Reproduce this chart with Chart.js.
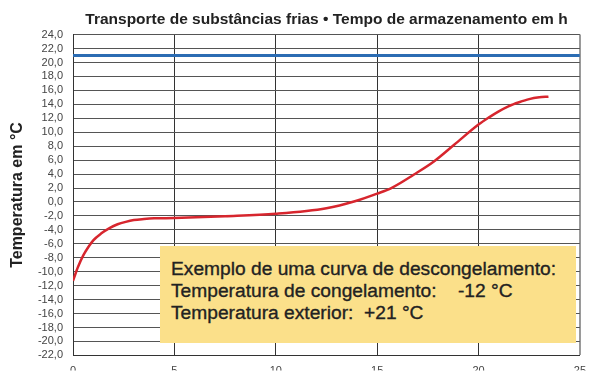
<!DOCTYPE html>
<html>
<head>
<meta charset="utf-8">
<script src="https://cdn.jsdelivr.net/npm/chart.js@4.4.0/dist/chart.umd.min.js"></script>
<style>
  html, body { margin: 0; padding: 0; background: #fff; }
  #wrap { position: relative; width: 595px; height: 372px; overflow: hidden; }
  #nota {
    position: absolute; left: 160px; top: 246px; width: 416px; height: 97px;
    box-sizing: border-box; padding: 12px 0 0 11px;
    background: #fbe08a; color: #222;
    font-family: 'Liberation Sans', Arial, sans-serif; font-size: 19.2px; line-height: 22px;
    white-space: pre; -webkit-text-stroke: 0.35px #222;
  }
</style>
</head>
<body>
<div id="wrap">
  <canvas id="grafico" width="595" height="372"></canvas>
  <div id="nota">Exemplo de uma curva de descongelamento:
Temperatura de congelamento:    -12 °C
Temperatura exterior:  +21 °C</div>
</div>
<script>
// curva de descongelamento (h, °C)
const horas = [0, 0.25, 0.5, 0.75, 1.0, 1.4, 1.8, 2.2, 2.6, 3.0, 3.5, 4, 5, 7.5, 10, 12.5, 13.9, 15, 15.7, 16.8, 17.8, 18.8, 20, 20.5, 21, 21.5, 22, 22.5, 23, 23.45];
const temperaturas = [-11.3, -9.3, -7.7, -6.5, -5.5, -4.5, -3.75, -3.2, -2.85, -2.6, -2.45, -2.35, -2.3, -2.05, -1.7, -0.9, 0.1, 1.2, 2.0, 3.9, 5.8, 8.2, 11.1, 12.1, 13.0, 13.75, 14.3, 14.75, 15.0, 15.1];

// temperatura exterior constante
const horasExterior = [0, 25];
const tempExterior = [21, 21];

const eixoX = { min: 0, max: 25, passo: 5 };
const eixoY = { min: -22, max: 24, passo: 2 };

const fonte = "'Liberation Sans', Arial, sans-serif";

const pares = (xs, ys) => xs.map((x, i) => ({ x: x, y: ys[i] }));

new Chart(document.getElementById('grafico'), {
  type: 'line',
  data: {
    datasets: [{
      data: pares(horas, temperaturas),
      borderColor: '#d7262e',
      borderWidth: 2.5,
      pointRadius: 0,
      cubicInterpolationMode: 'monotone'
    }, {
      data: pares(horasExterior, tempExterior),
      borderColor: '#2b6cb3',
      borderWidth: 3,
      pointRadius: 0
    }]
  },
  options: {
    responsive: false,
    animation: false,
    layout: { padding: { left: 0, right: 7, top: 0, bottom: 0 } },
    plugins: {
      legend: { display: false },
      tooltip: { enabled: false },
      title: {
        display: true,
        fullSize: false,
        text: 'Transporte de substâncias frias • Tempo de armazenamento em h',
        color: '#222',
        font: { family: fonte, size: 15.5, weight: 'bold' },
        padding: { top: 10, bottom: 6 }
      }
    },
    scales: {
      x: {
        type: 'linear',
        min: eixoX.min,
        max: eixoX.max,
        afterFit: (s) => { s.height = 15; },
        ticks: { stepSize: eixoX.passo, color: '#444', font: { family: fonte, size: 11 }, padding: 9 },
        grid: {
          drawTicks: false,
          color: (c) => c.tick && c.tick.value === 25 ? '#9a9a9a' : '#333',
          lineWidth: (c) => c.tick && c.tick.value === 25 ? 2 : 1
        },
        border: { color: '#333' }
      },
      y: {
        min: eixoY.min,
        max: eixoY.max,
        afterFit: (s) => { s.width = 73; },
        ticks: {
          stepSize: eixoY.passo,
          autoSkip: false,
          color: '#444',
          font: { family: fonte, size: 11 },
          padding: 10,
          callback: (v) => v.toFixed(1).replace('.', ',')
        },
        grid: { drawTicks: false, color: '#555' },
        border: { color: '#333' },
        title: {
          display: true,
          text: 'Temperatura em °C',
          color: '#222',
          font: { family: fonte, size: 16, weight: 'bold' },
          padding: { top: 8, bottom: 0 }
        }
      }
    }
  }
});
</script>
</body>
</html>
